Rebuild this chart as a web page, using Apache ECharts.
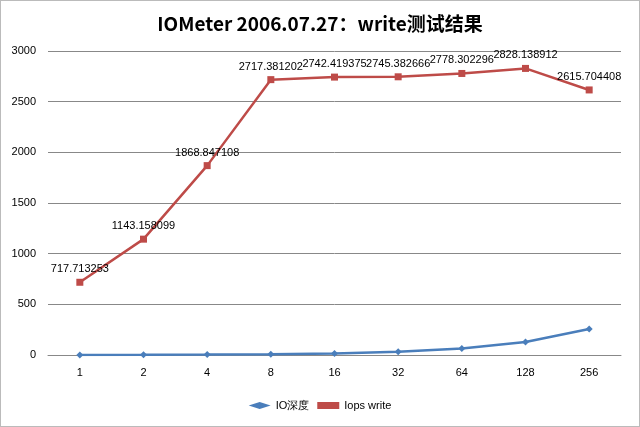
<!DOCTYPE html>
<html><head><meta charset="utf-8">
<script src="https://cdn.jsdelivr.net/npm/echarts@6/dist/echarts.min.js"></script>
<style>html,body{margin:0;padding:0;background:#fff}#c{width:640px;height:427px;box-sizing:border-box;border:1px solid #bbb}</style>
</head><body><div id="c"></div>
<script>
var categories = ['1','2','4','8','16','32','64','128','256'];
var ioDepth = [1,2,4,8,16,32,64,128,256];
var iopsWrite = [717.713253,1143.158099,1868.847108,2717.381202,2742.419375,2745.382666,2778.302296,2828.138912,2615.704408];
var chart = echarts.init(document.getElementById('c'));
chart.setOption({
  animation:false,
  title:{text:'IOMeter 2006.07.27：write测试结果',left:'center',top:8,textStyle:{fontSize:19,fontWeight:'bold',color:'#000',fontFamily:'"Noto Sans CJK SC", sans-serif'}},
  grid:{left:47,right:18,top:50,bottom:71},
  legend:{bottom:10,itemWidth:22,itemHeight:7,textStyle:{fontSize:11,color:'#000'},data:[{name:'IO深度',icon:'diamond'},{name:'Iops write',icon:'rect'}]},
  xAxis:{type:'category',data:categories,boundaryGap:true,axisLine:{lineStyle:{color:'#888'}},axisTick:{show:false},axisLabel:{color:'#000',fontSize:11,margin:12}},
  yAxis:{type:'value',min:0,max:3000,interval:500,axisLine:{show:false},axisTick:{show:false},splitLine:{lineStyle:{color:'#888'}},axisLabel:{color:'#000',fontSize:11,margin:12,formatter:function(v){return String(v);}}},
  series:[
    {name:'IO深度',type:'line',data:ioDepth,symbol:'diamond',symbolSize:7,color:'#4a7ebb',lineStyle:{width:2.5}},
    {name:'Iops write',type:'line',data:iopsWrite,symbol:'rect',symbolSize:7,color:'#be4b48',lineStyle:{width:2.5},
     label:{show:true,position:'top',distance:4,color:'#000',fontSize:11,formatter:function(p){return String(p.value);}}}
  ]
});
</script></body></html>
